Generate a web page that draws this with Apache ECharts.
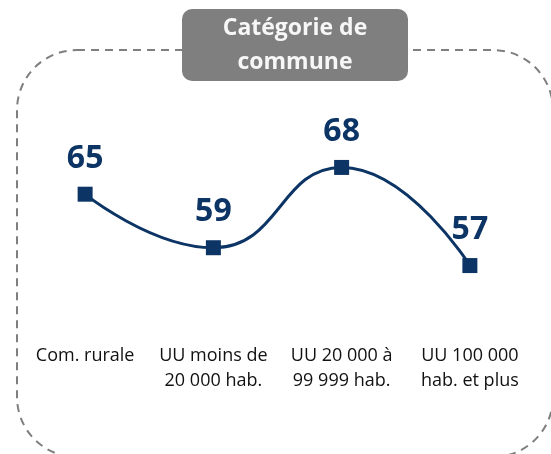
<!DOCTYPE html>
<html>
<head>
<meta charset="utf-8">
<script src="https://cdn.jsdelivr.net/npm/echarts@6/dist/echarts.min.js"></script>
<style>html,body{margin:0;padding:0;background:#fff;}#c{width:551px;height:454px;}</style>
</head>
<body>
<div id="c"></div>
<script>
const categories = ["Com. rurale", "UU moins de\n20 000 hab.", "UU 20 000 à\n99 999 hab.", "UU 100 000\nhab. et plus"];
const values = [65, 59, 68, 57];
const titleText = "Catégorie de\ncommune";

const navy = "#0c3465";
const chart = echarts.init(document.getElementById('c'), null, {renderer: 'canvas'});
chart.setOption({
  animation: false,
  backgroundColor: '#ffffff',
  grid: {left: 21, width: 513, top: 105, height: 223},
  xAxis: {
    type: 'category',
    data: categories,
    boundaryGap: true,
    axisLine: {show: false},
    axisTick: {show: false},
    axisLabel: {
      interval: 0,
      margin: 15,
      color: '#111111',
      fontFamily: 'Open Sans',
      fontSize: 18,
      lineHeight: 25,
      align: 'center',
      verticalAlign: 'top'
    }
  },
  yAxis: {
    type: 'value',
    min: 50,
    max: 75,
    show: false,
    splitLine: {show: false}
  },
  series: [{
    type: 'line',
    data: values,
    smooth: 0.5,
    symbol: 'rect',
    symbolSize: 15,
    lineStyle: {color: navy, width: 3},
    itemStyle: {color: navy},
    label: {
      show: true,
      position: 'top',
      distance: 12,
      color: navy,
      fontFamily: 'Open Sans',
      fontWeight: 'bold',
      fontSize: 32
    },
    z: 5
  }],
  graphic: [
    {
      type: 'rect',
      z: 1,
      shape: {x: 17, y: 50, width: 536, height: 407, r: 60},
      style: {fill: 'none', stroke: '#7f7f7f', lineWidth: 2, lineDash: [8, 6]}
    },
    {
      type: 'rect',
      z: 2,
      shape: {x: 182, y: 9, width: 226, height: 72, r: 10},
      style: {fill: '#7f7f7f'}
    },
    {
      type: 'text',
      z: 3,
      x: 295,
      y: 45,
      style: {
        text: titleText,
        fill: '#f7f7f7',
        font: 'bold 23px "Open Sans"',
        lineHeight: 34,
        align: 'center',
        verticalAlign: 'middle'
      }
    }
  ]
});
</script>
</body>
</html>
